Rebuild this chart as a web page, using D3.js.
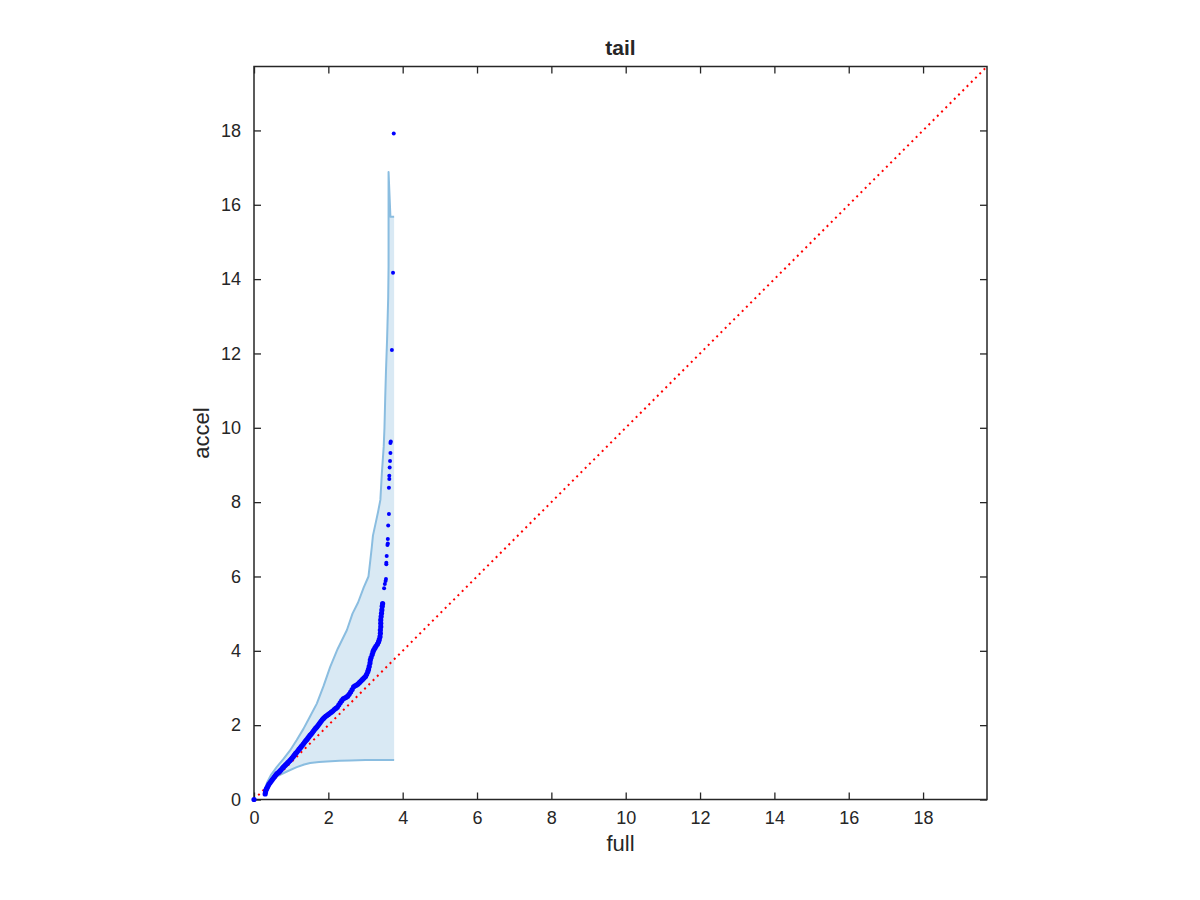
<!DOCTYPE html>
<html>
<head>
<meta charset="utf-8">
<script src="https://cdn.jsdelivr.net/npm/d3@7"></script>
<style>
  html, body { margin: 0; padding: 0; background: #fff; }
  svg { display: block; }
  text { font-family: "Liberation Sans", Arial, Helvetica, sans-serif; fill: #262626; }
</style>
</head>
<body>
<svg id="chart" width="1200" height="900"></svg>
<script>
// ---- data ----
const axisMax = 19.72;
const tickValues = [0, 2, 4, 6, 8, 10, 12, 14, 16, 18];
const titleText = "tail";
const xLabel = "full";
const yLabel = "accel";

// dense body of the Q-Q points [full, accel]
const qqBody = [
  [0.00,0.00],
  [0.30,0.15],[0.31,0.20],[0.32,0.25],[0.34,0.29],[0.36,0.33],[0.38,0.37],[0.40,0.41],
  [0.43,0.45],[0.46,0.49],[0.49,0.53],[0.52,0.57],[0.55,0.61],[0.58,0.65],[0.61,0.69],
  [0.64,0.71],[0.67,0.74],[0.70,0.77],[0.73,0.80],[0.76,0.84],[0.79,0.87],[0.82,0.90],
  [0.85,0.93],[0.88,0.96],[0.91,0.99],[0.94,1.02],[0.97,1.05],[1.00,1.09],[1.03,1.12],
  [1.06,1.16],[1.09,1.20],[1.12,1.24],[1.15,1.27],[1.18,1.31],[1.21,1.35],[1.24,1.38],
  [1.27,1.42],[1.30,1.46],[1.33,1.50],[1.36,1.54],[1.39,1.58],[1.42,1.61],[1.45,1.65],
  [1.48,1.69],[1.51,1.73],[1.54,1.76],[1.57,1.80],[1.60,1.84],[1.63,1.88],[1.66,1.92],
  [1.69,1.95],[1.72,1.99],[1.75,2.03],[1.78,2.07],[1.81,2.11],[1.84,2.15],[1.87,2.18],
  [1.90,2.21],[1.93,2.24],[1.96,2.26],[2.00,2.29],[2.04,2.32],[2.08,2.35],[2.12,2.38],
  [2.16,2.42],[2.20,2.45],[2.24,2.48],[2.28,2.54],[2.32,2.60],[2.36,2.66],[2.40,2.71],
  [2.44,2.73],[2.48,2.75],[2.52,2.78],[2.56,2.83],[2.60,2.89],[2.64,2.96],[2.68,3.03],
  [2.72,3.06],[2.76,3.08],[2.80,3.11],[2.84,3.15],[2.88,3.19],[2.92,3.23],[2.96,3.27],
  [3.00,3.31],[3.03,3.37],[3.06,3.44],[3.08,3.50],[3.10,3.58],[3.12,3.67],[3.13,3.75],
  [3.15,3.82],[3.18,3.90],[3.20,3.97],[3.22,4.02],[3.25,4.07],[3.28,4.12],[3.32,4.18],
  [3.35,4.24],[3.37,4.30],[3.39,4.38],[3.40,4.47],[3.40,4.56],[3.41,4.65],[3.41,4.74],
  [3.41,4.83],[3.42,4.92],[3.43,5.01],[3.44,5.10],[3.45,5.20],[3.46,5.27]
];
// sparse upper tail of the Q-Q points
const qqTail = [
  [3.50,5.68],[3.52,5.80],[3.54,5.88],[3.55,5.93],[3.56,6.33],[3.56,6.37],[3.57,6.55],
  [3.59,6.85],[3.60,6.89],[3.60,7.01],[3.61,7.37],[3.63,7.68],[3.63,8.39],[3.64,8.62],
  [3.64,8.71],[3.65,8.93],[3.66,9.11],[3.67,9.32],[3.67,9.59],[3.68,9.63],[3.71,12.09],
  [3.74,14.17],[3.76,17.92]
];
// confidence band, upper bound
const bandUpper = [
  [0.27,0.22],[0.35,0.45],[0.45,0.65],[0.61,0.87],[0.80,1.10],[0.97,1.32],[1.15,1.60],
  [1.33,1.90],[1.50,2.22],[1.69,2.58],[1.87,3.05],[2.05,3.57],[2.25,4.05],[2.50,4.56],
  [2.65,5.00],[2.80,5.30],[2.95,5.70],[3.08,6.00],[3.13,6.44],[3.17,6.80],[3.20,7.10],
  [3.28,7.47],[3.34,7.75],[3.40,8.06],[3.44,8.78],[3.49,9.50],[3.51,10.00],[3.53,10.80],
  [3.55,11.50],[3.58,12.37],[3.59,12.73],[3.61,13.50],[3.62,14.35],[3.62,15.50],
  [3.62,16.88],[3.67,15.68],[3.77,15.68]
];
// confidence band, lower bound
const bandLower = [
  [0.27,0.22],[0.30,0.28],[0.35,0.38],[0.43,0.50],[0.55,0.58],[0.70,0.66],[0.90,0.76],
  [1.15,0.87],[1.35,0.94],[1.51,0.98],[1.75,1.01],[1.96,1.02],[2.30,1.04],[2.59,1.05],
  [3.00,1.06],[3.77,1.06]
];
const refLine = [[0,0],[axisMax,axisMax]];

// ---- layout ----
const L = 254, T = 66.5, W = 733, H = 733;
const svg = d3.select("#chart");
const x = d3.scaleLinear().domain([0, axisMax]).range([L, L + W]);
const y = d3.scaleLinear().domain([0, axisMax]).range([T + H, T]);

svg.append("defs").append("clipPath").attr("id","clip")
  .append("rect").attr("x", L).attr("y", T).attr("width", W).attr("height", H);

const plot = svg.append("g").attr("clip-path","url(#clip)");

// band fill: upper forward, lower backward
const line = d3.line().x(d => x(d[0])).y(d => y(d[1]));
const poly = bandUpper.concat(bandLower.slice().reverse());
plot.append("path")
  .attr("d", line(poly) + "Z")
  .attr("fill", "#d9e9f4").attr("stroke", "none");

[bandUpper, bandLower].forEach(b => {
  plot.append("path").attr("d", line(b))
    .attr("fill","none").attr("stroke","#8abde0").attr("stroke-width",2)
    .attr("stroke-linejoin","round");
});

// reference y = x line
plot.append("path").attr("d", line(refLine))
  .attr("fill","none").attr("stroke","#ff0000").attr("stroke-width",2)
  .attr("stroke-dasharray","2,4");

// ---- axes (box with inward ticks on all four sides) ----
const axisColor = "#262626";
const tickLen = 7;
function styleAxis(g) {
  g.select(".domain").remove();
  g.selectAll(".tick line").attr("stroke", axisColor).attr("stroke-width", 1.3);
  g.selectAll(".tick text").style("font-size","18px").attr("fill", axisColor)
    .style("font-family",'"Liberation Sans", Arial, sans-serif');
}
svg.append("g").attr("transform", `translate(0,${T+H})`)
  .call(d3.axisBottom(x).tickValues(tickValues).tickSize(-tickLen).tickPadding(12).tickFormat(d3.format("d")))
  .call(styleAxis);
svg.append("g").attr("transform", `translate(0,${T})`)
  .call(d3.axisTop(x).tickValues(tickValues).tickSize(-tickLen).tickFormat(""))
  .call(styleAxis);
svg.append("g").attr("transform", `translate(${L},0)`)
  .call(d3.axisLeft(y).tickValues(tickValues).tickSize(-tickLen).tickPadding(13).tickFormat(d3.format("d")))
  .call(styleAxis);
svg.append("g").attr("transform", `translate(${L+W},0)`)
  .call(d3.axisRight(y).tickValues(tickValues).tickSize(-tickLen).tickFormat(""))
  .call(styleAxis);

svg.append("rect").attr("x", L).attr("y", T).attr("width", W).attr("height", H)
  .attr("fill","none").attr("stroke", axisColor).attr("stroke-width", 1.5);

// Q-Q points (drawn on top, not clipped, like the original markers)
const pts = svg.append("g");
pts.selectAll("circle.body").data(qqBody).enter()
  .append("circle").attr("class","body")
  .attr("cx", d => x(d[0])).attr("cy", d => y(d[1])).attr("r", 2.6)
  .attr("fill", "#0000ff");
pts.selectAll("circle.tail").data(qqTail).enter()
  .append("circle").attr("class","tail")
  .attr("cx", d => x(d[0])).attr("cy", d => y(d[1])).attr("r", 2)
  .attr("fill", "#0000ff");

// ---- labels ----
svg.append("text").attr("x", L + W/2).attr("y", 55).attr("text-anchor","middle")
  .style("font-size","21px").style("font-weight","bold").attr("fill","#000").text(titleText);
svg.append("text").attr("x", L + W/2).attr("y", 851).attr("text-anchor","middle")
  .style("font-size","22px").text(xLabel);
svg.append("text").attr("transform", `translate(209,${T + H/2}) rotate(-90)`)
  .attr("text-anchor","middle").style("font-size","22px").text(yLabel);
</script>
</body>
</html>
